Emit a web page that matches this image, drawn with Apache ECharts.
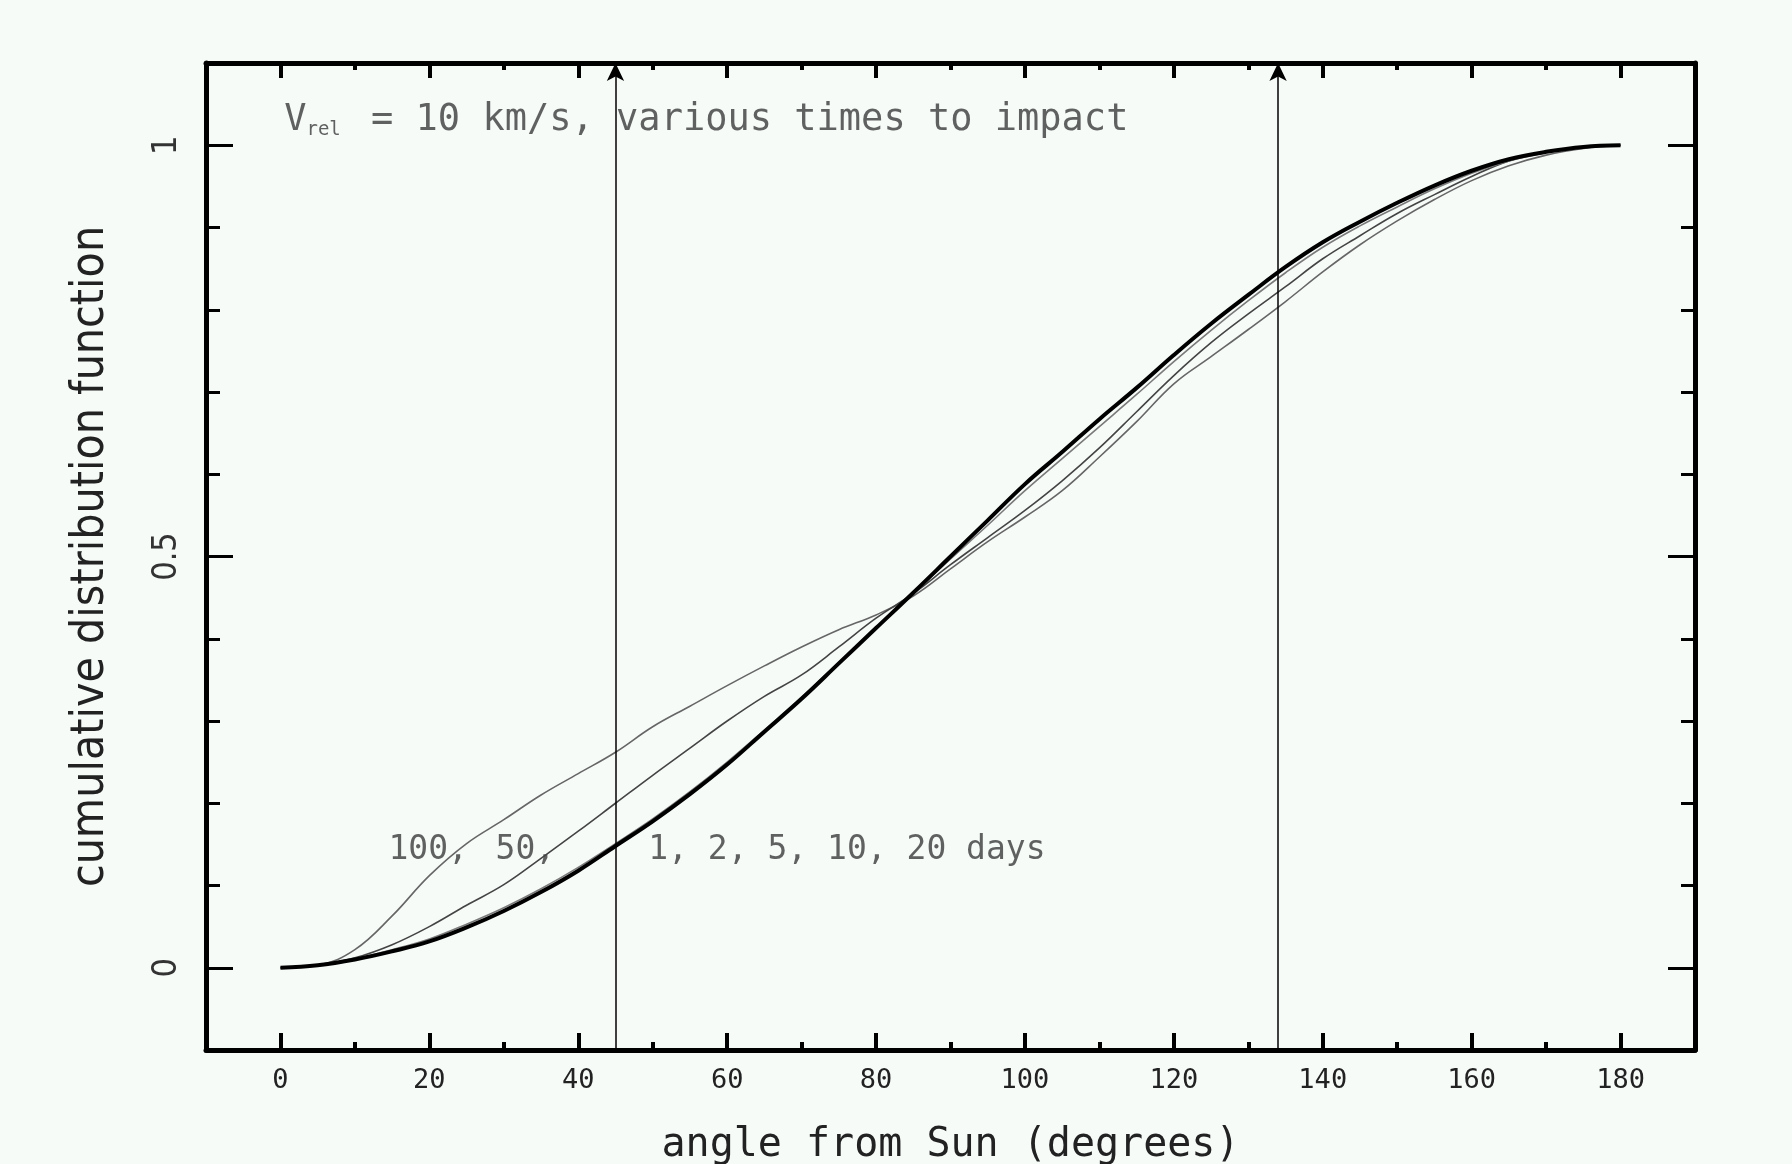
<!DOCTYPE html>
<html>
<head>
<meta charset="utf-8">
<title>cumulative distribution function</title>
<script src="https://cdn.jsdelivr.net/npm/echarts@6/dist/echarts.min.js"></script>
<style>
  html, body { margin: 0; padding: 0; background: #f6fbf8; }
  #main { width: 1792px; height: 1164px; }
</style>
</head>
<body>
<div id="main"></div>
<script>
  // angle from Sun (degrees), sampling of the curves
  var angles = [0, 5, 10, 15, 20, 25, 30, 35, 40, 45, 50, 55, 60, 65, 70, 75, 80, 85, 90,
    95, 100, 105, 110, 115, 120, 125, 130, 135, 140, 145, 150, 155, 160, 165, 170, 175, 180];

  // 1, 2, 5, 10 days (thick bundle)
  var shortDays = [0, 0.003, 0.010, 0.020, 0.032, 0.049, 0.069, 0.092, 0.118, 0.148, 0.178, 0.211, 0.247, 0.287, 0.327, 0.370, 0.413, 0.456, 0.500,
    0.544, 0.588, 0.627, 0.667, 0.705, 0.745, 0.783, 0.818, 0.852, 0.882, 0.907, 0.930, 0.951, 0.969, 0.983, 0.992, 0.998, 1.0];
  var days20 = [0, 0.003, 0.011, 0.022, 0.035, 0.053, 0.073, 0.096, 0.122, 0.151, 0.181, 0.214, 0.250, 0.289, 0.329, 0.371, 0.413, 0.455, 0.497,
    0.538, 0.580, 0.619, 0.658, 0.697, 0.737, 0.775, 0.811, 0.845, 0.876, 0.902, 0.925, 0.947, 0.966, 0.981, 0.991, 0.997, 1.0];
  var days50 = [0, 0.003, 0.012, 0.028, 0.050, 0.076, 0.101, 0.133, 0.166, 0.200, 0.234, 0.267, 0.300, 0.330, 0.356, 0.390, 0.425, 0.455, 0.490,
    0.523, 0.556, 0.592, 0.632, 0.676, 0.720, 0.760, 0.795, 0.828, 0.862, 0.890, 0.917, 0.940, 0.962, 0.981, 0.992, 0.998, 1.0];
  var days100 = [0, 0.003, 0.022, 0.063, 0.112, 0.151, 0.180, 0.210, 0.236, 0.262, 0.293, 0.318, 0.343, 0.367, 0.390, 0.411, 0.429, 0.452, 0.485,
    0.518, 0.548, 0.580, 0.621, 0.664, 0.710, 0.743, 0.776, 0.810, 0.846, 0.879, 0.908, 0.934, 0.957, 0.975, 0.988, 0.996, 1.0];

  // vertical arrows
  var arrowAngles = [45, 134];

  // ticks
  var xMajorTicks = [0, 20, 40, 60, 80, 100, 120, 140, 160, 180];
  var xMinorTicks = [10, 30, 50, 70, 90, 110, 130, 150, 170];
  var yMajorTicks = [0, 0.5, 1];
  var yMinorTicks = [0.1, 0.2, 0.3, 0.4, 0.6, 0.7, 0.8, 0.9];

  // text notes inside the plot
  var noteTexts = ['{v|V}{s|rel}{v| = 10 km/s, various times to impact}', '{w|100,}', '{w|50,}', '{w|1, 2, 5, 10, 20 days}'];
  var noteX = [0.5, 14.5, 28.9, 49.4];
  var noteY = [1.03, 0.143, 0.143, 0.143];

  function pairs(ys) {
    return angles.map(function (a, i) { return [a, ys[i]]; });
  }

  var mono = 'DejaVu Sans Mono';
  var narrow = 'Liberation Sans Narrow, DejaVu Sans Condensed, sans-serif';
  var frame = { show: true, onZero: false, lineStyle: { color: '#000', width: 5 } };

  function xAxisOf(pos, ticks, len, withLine) {
    return {
      type: 'value', position: pos, min: -10, max: 190,
      axisLine: withLine ? frame : { show: false, onZero: false },
      axisTick: { show: true, inside: true, length: len, customValues: ticks, lineStyle: { color: '#000', width: 4 } },
      axisLabel: { show: false },
      splitLine: { show: false }
    };
  }
  function yAxisOf(pos, ticks, len, withLine) {
    return {
      type: 'value', position: pos, min: -0.1, max: 1.1,
      axisLine: withLine ? frame : { show: false, onZero: false },
      axisTick: { show: true, inside: true, length: len, customValues: ticks, lineStyle: { color: '#000', width: 3 } },
      axisLabel: { show: false },
      splitLine: { show: false }
    };
  }

  var xBottom = xAxisOf('bottom', xMajorTicks, 17, true);
  xBottom.axisLabel = {
    show: true, customValues: xMajorTicks, margin: 17,
    fontFamily: mono, fontSize: 27, color: '#222'
  };
  xBottom.name = 'angle from Sun (degrees)';
  xBottom.nameLocation = 'middle';
  xBottom.nameGap = 76;
  xBottom.nameTextStyle = { fontFamily: mono, fontSize: 40, color: '#222' };

  var yLeft = yAxisOf('left', yMajorTicks, 27, true);
  yLeft.axisLabel = {
    show: true, customValues: yMajorTicks, rotate: 90, margin: 22,
    fontFamily: narrow, fontSize: 34, color: '#333',
    formatter: function (v) { return String(v); }
  };
  yLeft.name = 'cumulative distribution function';
  yLeft.nameLocation = 'middle';
  yLeft.nameRotate = 90;
  yLeft.nameGap = 92;
  yLeft.nameTextStyle = { fontFamily: narrow, fontSize: 46, color: '#222' };

  var chart = echarts.init(document.getElementById('main'));

  function curve(name, ys, color, width) {
    return {
      name: name, type: 'line', data: pairs(ys), smooth: 0.4,
      showSymbol: false, symbol: 'none', silent: true,
      lineStyle: { color: color, width: width }
    };
  }

  var thick = curve('1, 2, 5, 10 days', shortDays, '#000', 4);
  thick.markLine = {
    silent: true, symbol: ['none', 'arrow'], symbolSize: [13, 18],
    label: { show: false },
    lineStyle: { color: '#000', width: 1.5, type: 'solid' },
    data: arrowAngles.map(function (a) { return { xAxis: a }; })
  };

  chart.setOption({
    backgroundColor: '#f6fbf8',
    animation: false,
    // fixed plot box, the axis name sits right at the bottom edge like in the original
    grid: { left: 206, right: 97, top: 63, bottom: 114, outerBoundsMode: 'none', containLabel: false },
    xAxis: [xBottom, xAxisOf('bottom', xMinorTicks, 8, false), xAxisOf('top', xMajorTicks, 15, true), xAxisOf('top', xMinorTicks, 7, false)],
    yAxis: [yLeft, yAxisOf('left', yMinorTicks, 14, false), yAxisOf('right', yMajorTicks, 27, true), yAxisOf('right', yMinorTicks, 14, false)],
    series: [
      curve('100 days', days100, '#666', 1.6),
      curve('50 days', days50, '#444', 1.6),
      curve('20 days', days20, '#7a7a7a', 1.6),
      thick,
      {
        name: 'notes', type: 'scatter', symbolSize: 0, silent: true,
        data: noteTexts.map(function (t, i) { return { name: t, value: [noteX[i], noteY[i]] }; }),
        label: {
          show: true, position: 'right', distance: 0,
          formatter: function (p) { return p.name; },
          rich: {
            v: { fontFamily: mono, fontSize: 37, color: '#3a3a3a' },
            s: { fontFamily: mono, fontSize: 19, color: '#3a3a3a', padding: [18, 8, 0, 0] },
            w: { fontFamily: mono, fontSize: 33, color: '#3a3a3a' }
          }
        }
      }
    ]
  });
</script>
</body>
</html>
